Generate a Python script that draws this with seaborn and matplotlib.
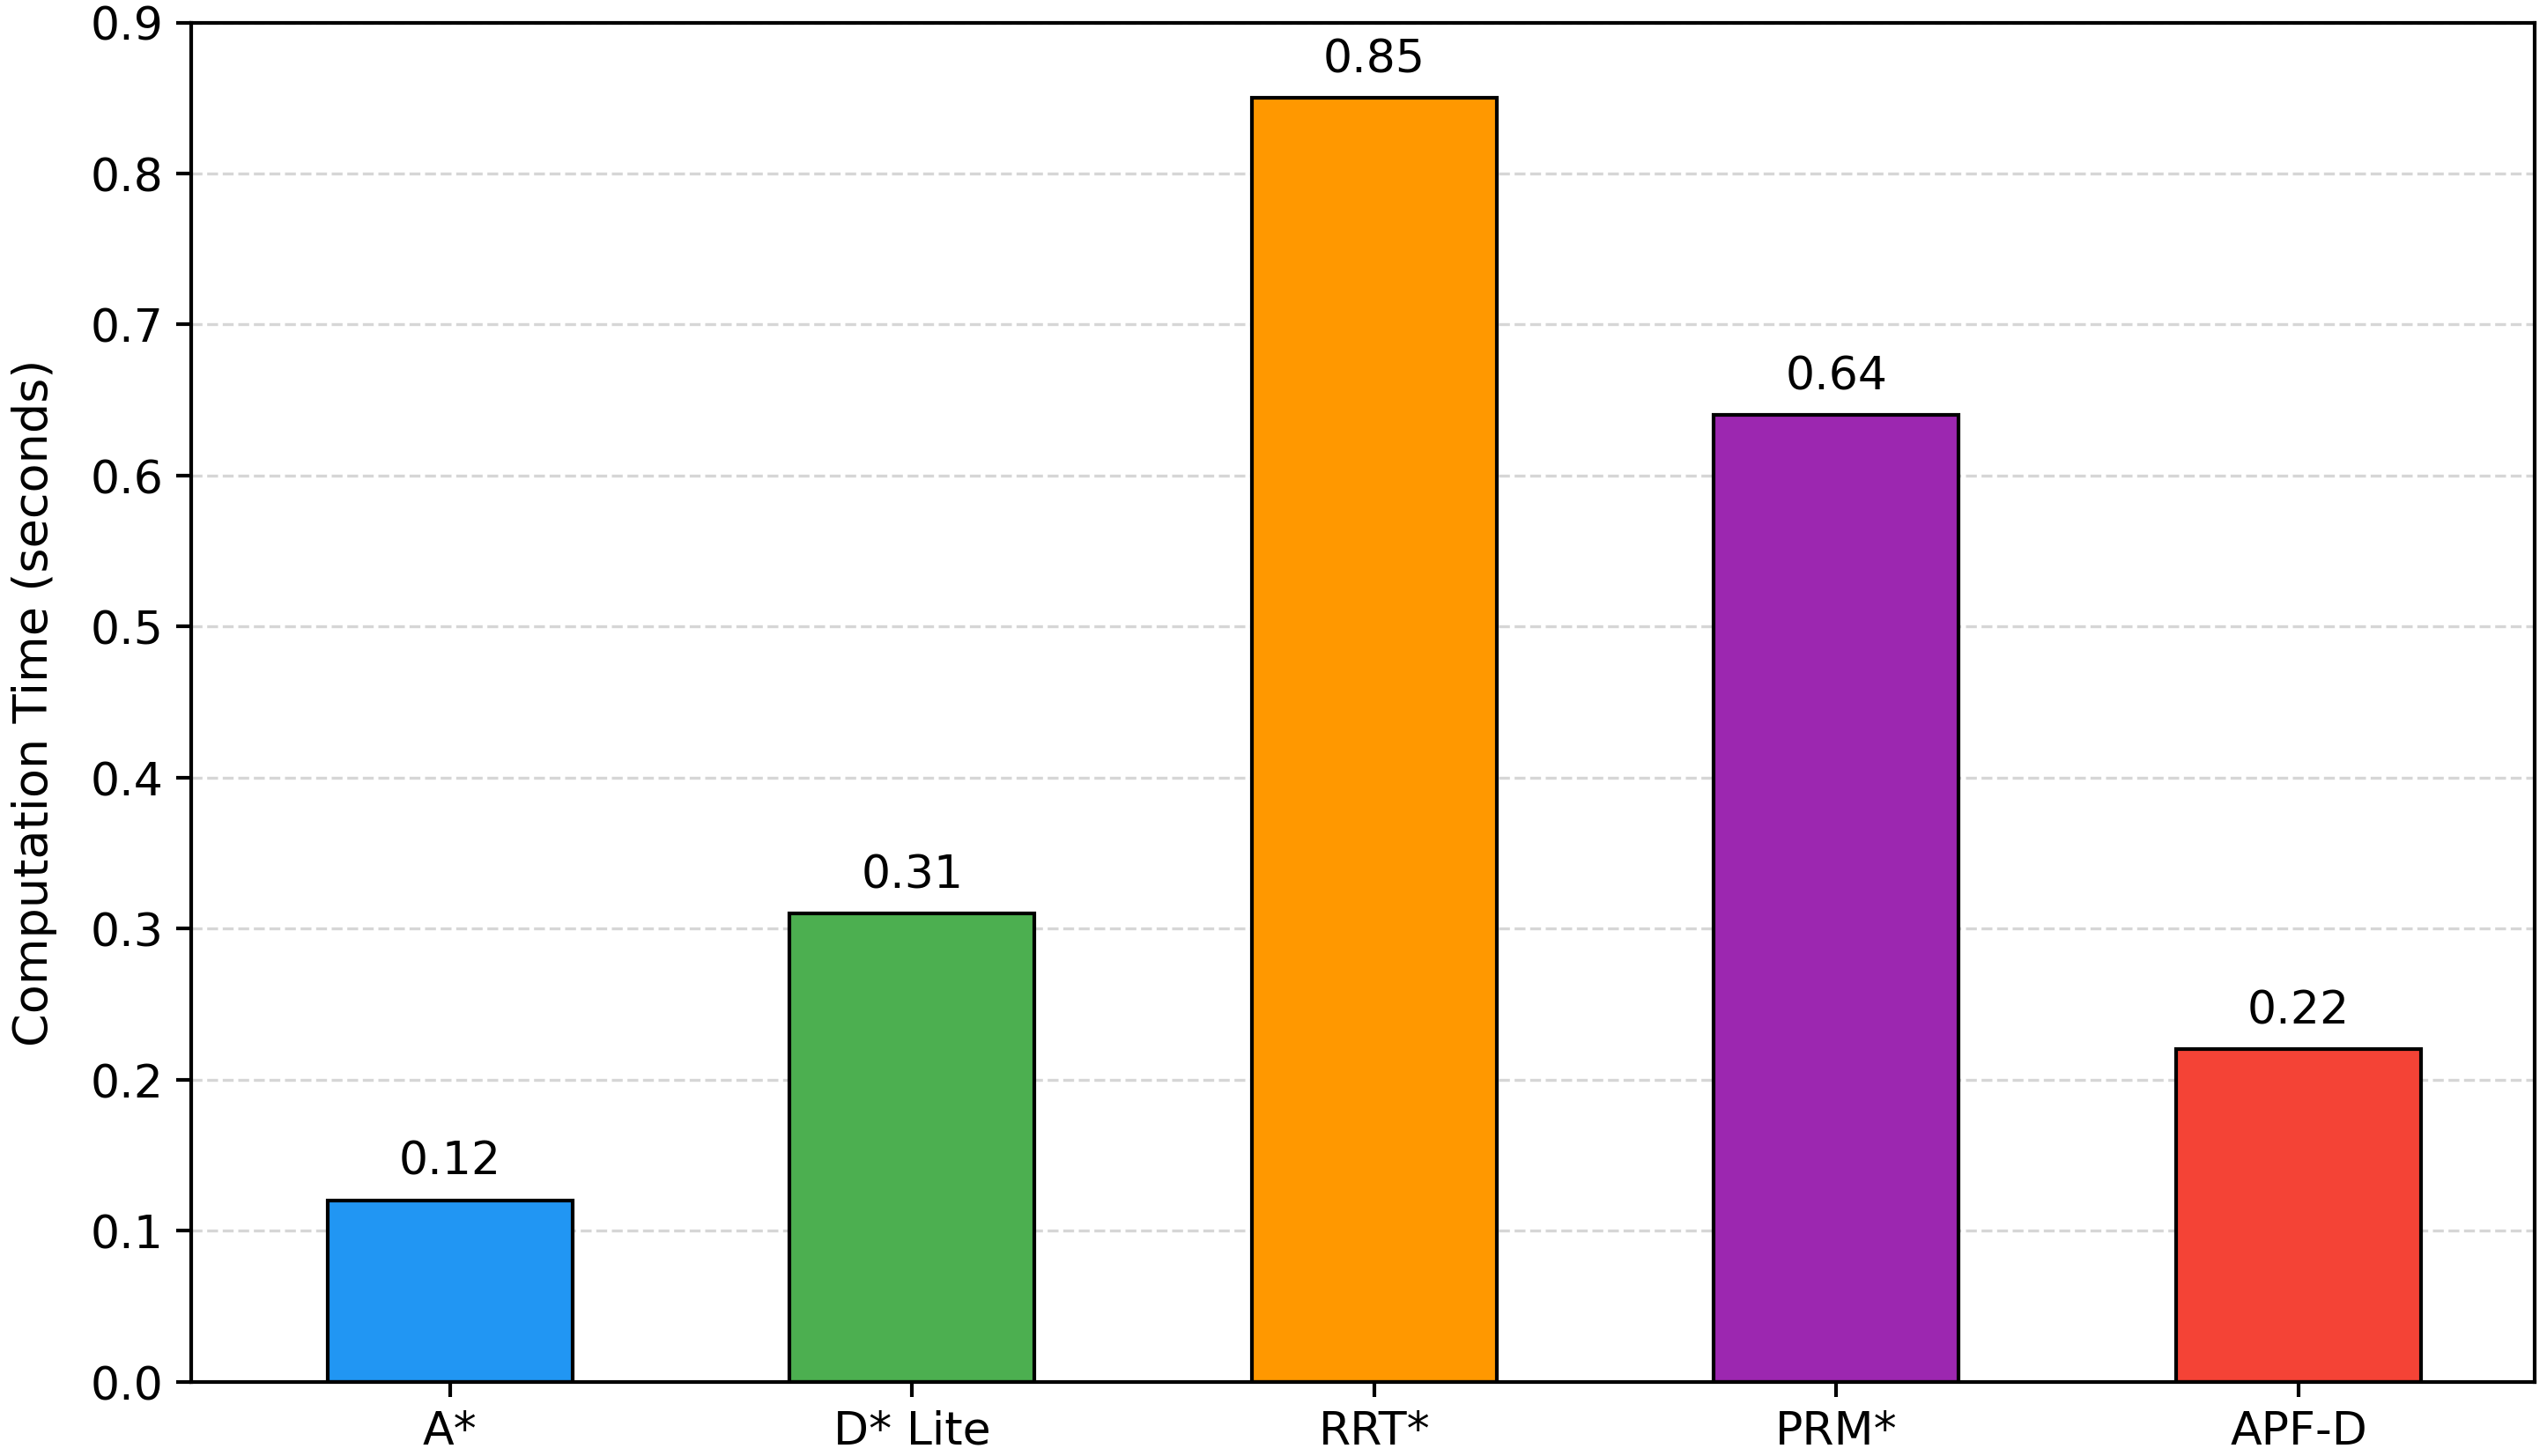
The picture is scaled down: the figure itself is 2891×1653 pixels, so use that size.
import matplotlib
matplotlib.use("Agg")
import matplotlib.pyplot as plt
import seaborn as sns
import pandas as pd

# algorithms and their mean computation time (s)
algorithms = ["A*", "D* Lite", "RRT*", "PRM*", "APF-D"]
comp_times = [0.12, 0.31, 0.85, 0.64, 0.22]
bar_colors = ["#2196F3", "#4CAF50", "#FF9800", "#9C27B0", "#F44336"]
y_ticks = [0.0, 0.1, 0.2, 0.3, 0.4, 0.5, 0.6, 0.7, 0.8, 0.9]

df = pd.DataFrame({"Algorithm": algorithms, "Time": comp_times})

sns.set_style("white")
plt.rcParams["font.family"] = ["DejaVu Sans"]
plt.rcParams["text.color"] = "black"
plt.rcParams["axes.labelcolor"] = "black"
plt.rcParams["xtick.color"] = "black"
plt.rcParams["ytick.color"] = "black"

fig, ax = plt.subplots(figsize=(9.637, 5.513), dpi=300)

sns.barplot(data=df, x="Algorithm", y="Time", hue="Algorithm",
            palette=bar_colors, width=0.53, edgecolor="black",
            linewidth=1.0, saturation=1, legend=False, ax=ax)

# value on top of each bar
for i, v in enumerate(comp_times):
    ax.text(i, v + 0.011, f"{v:.2f}", ha="center", va="bottom", fontsize=12.5)

ax.set_ylim(0, 0.9)
ax.set_xlim(-0.56, 4.51)
ax.set_yticks(y_ticks)
ax.set_yticklabels([f"{t:.1f}" for t in y_ticks])
ax.set_xlabel("")
ax.set_ylabel("Computation Time (seconds)", fontsize=13, labelpad=9)
ax.tick_params(axis="both", labelsize=12.5, length=4, width=1, bottom=True, left=True)

ax.yaxis.grid(True, linestyle="--", color="#cccccc", alpha=0.8, linewidth=0.8)
ax.set_axisbelow(True)
for s in ax.spines.values():
    s.set_color("black")
    s.set_linewidth(1.0)

fig.subplots_adjust(left=0.075, right=0.995, top=0.984, bottom=0.051)
fig.savefig("out.png", dpi=300)
